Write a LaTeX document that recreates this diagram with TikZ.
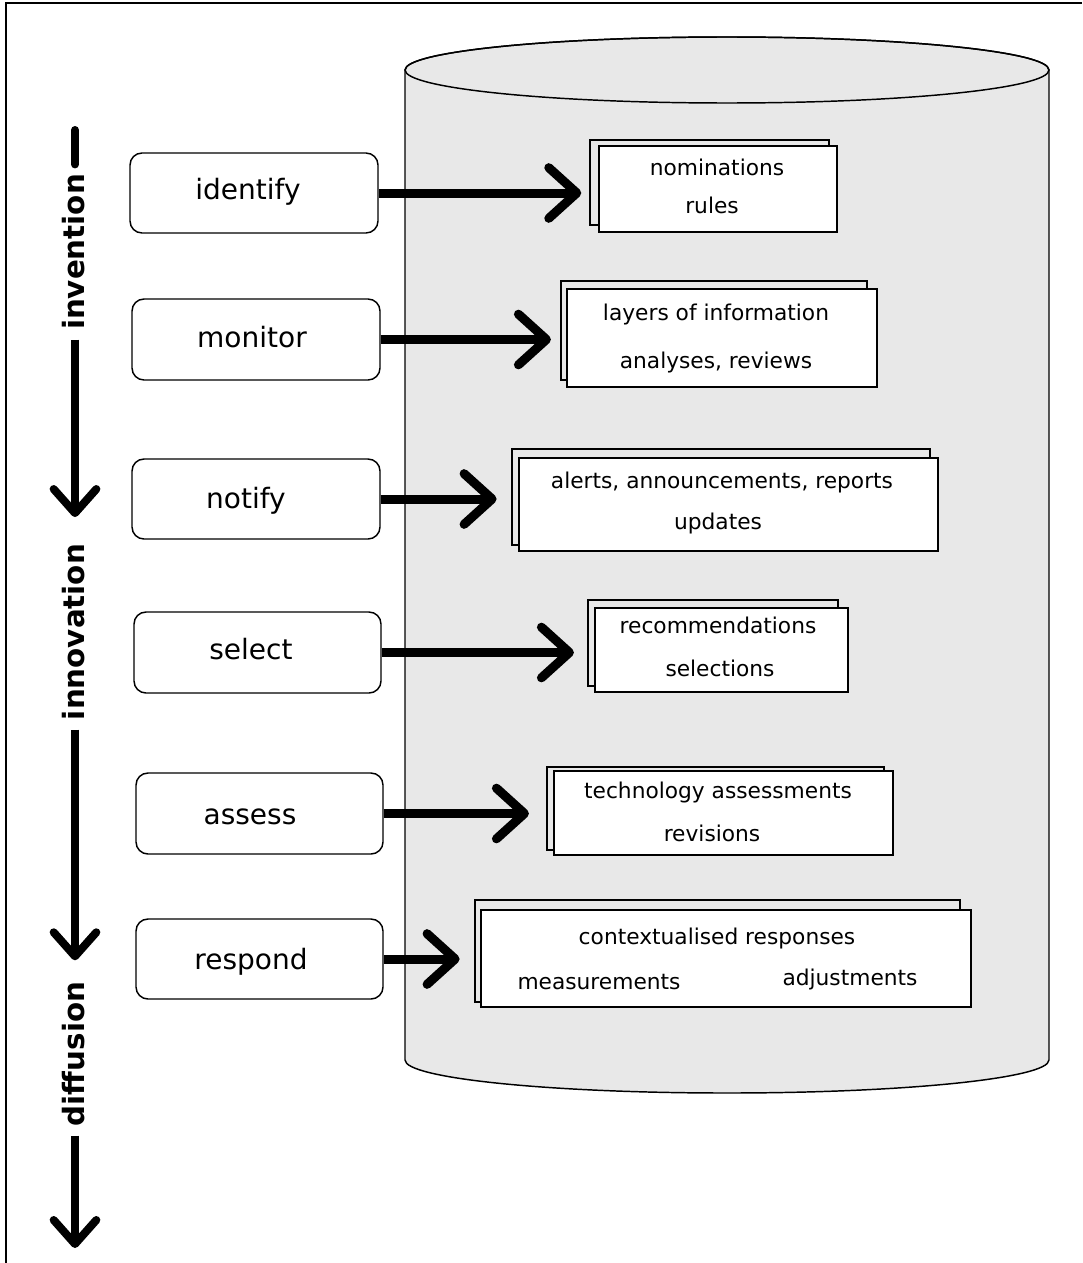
\documentclass[tikz,border=0pt]{standalone}
\usepackage{fontspec}
\setmainfont{DejaVu Sans}
\usetikzlibrary{arrows.meta,fit}
\definecolor{drum}{HTML}{E8E8E8}
\begin{document}
\begin{tikzpicture}[x=0.75pt,y=-0.75pt,
  frame/.style={line width=1.6pt},
  drumline/.style={line width=1.1pt},
  stage/.style={draw,line width=1.1pt,rounded corners=9pt,fill=white,inner sep=0pt},
  stagetext/.style={inner sep=0pt,font=\fontsize{21}{25}\selectfont,text height=0.72em,text depth=0.2em,yshift=-3.5pt},
  backbox/.style={draw,line width=1.1pt,inner sep=0pt},
  frontbox/.style={draw,line width=1.1pt,fill=white,inner sep=0pt},
  item/.style={inner sep=0pt,font=\fontsize{16.3}{19}\selectfont,text height=0.7em,text depth=0.2em,yshift=-2.5pt},
  phase/.style={rotate=90,inner xsep=7pt,inner ysep=0pt,font=\bfseries\fontsize{22}{26}\selectfont},
  flow/.style={line width=6.75pt,-{Straight Barb[length=21pt,width=38pt,round]}},
  axis/.style={line width=6pt,-{Straight Barb[length=18pt,width=32pt,round]}}]
\useasboundingbox (0,0) rectangle (1082,1263);
% page frame (top and left edges)
\draw[frame] (1082,3) -- (6,3) -- (6,1263);

% drum
\filldraw[drumline,fill=drum] (405,70) -- (405,1060)
  arc[start angle=180,end angle=360,x radius=241.5pt,y radius=24.75pt]
  -- (1049,70)
  arc[start angle=0,end angle=180,x radius=241.5pt,y radius=24.75pt] -- cycle;
\draw[drumline] (727,70) ellipse [x radius=241.5pt,y radius=24.75pt];

% stages
\node[stage,fit={(130,153)(378,233)}] (l1) {};
\node[stage,fit={(132,299)(380,380)}] (l2) {};
\node[stage,fit={(132,459)(380,539)}] (l3) {};
\node[stage,fit={(134,612)(381,693)}] (l4) {};
\node[stage,fit={(136,773)(383,854)}] (l5) {};
\node[stage,fit={(136,919)(383,999)}] (l6) {};
\node[stagetext] (s1) at (248,191) {identify};
\node[stagetext] (s2) at (252,339) {monitor};
\node[stagetext] (s3) at (246,500) {notify};
\node[stagetext] (s4) at (251,651) {select};
\node[stagetext] (s5) at (250,816) {assess};
\node[stagetext] (s6) at (251,961) {respond};

% outputs: back frame first, white front box on top
\node[backbox,fit={(590,140)(829,225)}] (b1) {};
\node[frontbox,fit={(599,146)(837,232)}] (f1) {};
\node[backbox,fit={(561,281)(867,380)}] (b2) {};
\node[frontbox,fit={(567,289)(877,387)}] (f2) {};
\node[backbox,fit={(512,449)(930,545)}] (b3) {};
\node[frontbox,fit={(519,458)(938,551)}] (f3) {};
\node[backbox,fit={(588,600)(838,686)}] (b4) {};
\node[frontbox,fit={(595,608)(848,692)}] (f4) {};
\node[backbox,fit={(547,767)(884,850)}] (b5) {};
\node[frontbox,fit={(554,771)(893,855)}] (f5) {};
\node[backbox,fit={(475,900)(960,1002)}] (b6) {};
\node[frontbox,fit={(481,910)(971,1007)}] (f6) {};

\node[item] (t11) at (717,169) {nominations};
\node[item] (t12) at (712,207) {rules};
\node[item] (t21) at (716,314) {layers of information};
\node[item] (t22) at (716,362) {analyses, reviews};
\node[item] (t31) at (722,482) {alerts, announcements, reports};
\node[item] (t32) at (718,523) {updates};
\node[item] (t41) at (718,627) {recommendations};
\node[item] (t42) at (720,670) {selections};
\node[item] (t51) at (718,792) {technology assessments};
\node[item] (t52) at (712,835) {revisions};
\node[item] (t61) at (717,938) {contextualised responses};
\node[item] (t62) at (599,983) {measurements};
\node[item] (t63) at (850,979) {adjustments};

% stage -> output arrows
\draw[flow,shorten >=6pt] (l1.east) -- (b1.west |- l1.east);
\draw[flow,shorten >=7pt] (l2.east) -- (b2.west |- l2.east);
\draw[flow,shorten >=11pt] (l3.east) -- (b3.west |- l3.east);
\draw[flow,shorten >=10pt] (l4.east) -- (b4.west |- l4.east);
\draw[flow,shorten >=13pt] (l5.east) -- (b5.west |- l5.east);
\draw[flow,shorten >=11pt] (l6.east) -- (b6.west |- l6.east);

% phase axis
\node[phase] (p1) at (74,252) {invention};
\node[phase] (p2) at (74,632) {innovation};
\node[phase] (p3) at (74,1054) {diffusion};
\coordinate (top) at (75,130);
\coordinate (bottom) at (75,1248);
\draw[line width=6pt,line cap=round] (top) -- (p1.east -| top);
\draw[axis,shorten >=13pt] (p1.west -| top) -- (p2.east -| top);
\draw[axis,shorten >=9pt] (p2.west -| top) -- (p3.east -| top);
\draw[axis] (p3.west -| top) -- (bottom);
\end{tikzpicture}
\end{document}
